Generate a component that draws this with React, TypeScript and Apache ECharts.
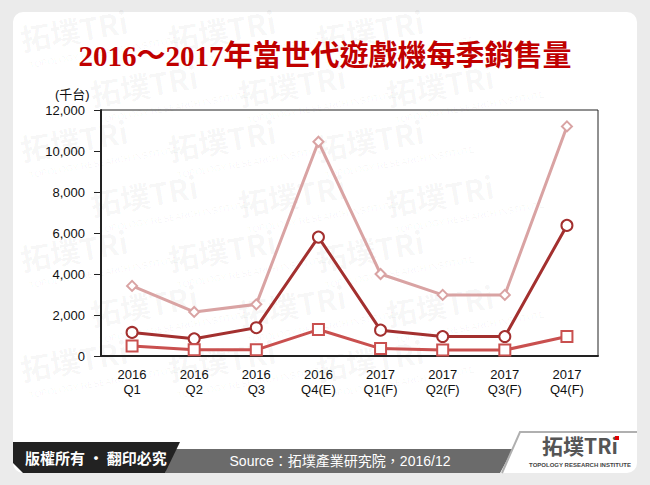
import React, { useEffect, useRef } from "react";
import * as echarts from "echarts";

const categories = ["2016\nQ1", "2016\nQ2", "2016\nQ3", "2016\nQ4(E)", "2017\nQ1(F)", "2017\nQ2(F)", "2017\nQ3(F)", "2017\nQ4(F)"];
const seriesTop = [3420, 2150, 2520, 10450, 4000, 2980, 2980, 11200];
const seriesMid = [1150, 840, 1380, 5800, 1260, 950, 950, 6370];
const seriesLow = [490, 300, 300, 1290, 360, 290, 290, 950];
const yTicks = { min: 0, max: 12000, interval: 2000 };
const titleText = "2016～2017年當世代遊戲機每季銷售量";
const unitText = "(千台)";
const footerLeft = "版權所有 · 翻印必究";
const footerSource = "Source：拓墣產業研究院，2016/12";

function watermark(): any[] {
  const els: any[] = [];
  for (let r = 0; r < 7; r++) {
    for (let c = 0; c < 4; c++) {
      const x = 18 + c * 148 + (r % 2) * 70;
      const y = 24 + r * 55;
      if (x > 455) continue;
      els.push({
        type: "group",
        x,
        y,
        rotation: 0.17,
        silent: true,
        z: -9,
        children: [
          { type: "text", x: 0, y: 0, silent: true, style: { text: "拓墣TRi", font: "bold 30px 'Noto Sans CJK TC', sans-serif", fill: "rgba(0,0,0,0.04)" } },
          { type: "text", x: 4, y: 38, silent: true, style: { text: "TOPOLOGY RESEARCH INSTITUTE", font: "9px 'Liberation Sans', Arial, sans-serif", fill: "rgba(0,0,0,0.045)" } },
        ],
      });
    }
  }
  return els;
}

export default function App() {
  const ref = useRef<HTMLDivElement>(null);
  useEffect(() => {
    if (!ref.current) return;
    const chart = echarts.init(ref.current, null, { renderer: "svg" });
    const fmt = (v: number) => String(v).replace(/\B(?=(\d{3})+(?!\d))/g, ",");
    const option: any = {
      animation: false,
      backgroundColor: "#ebebeb",
      title: {
        text: titleText,
        left: "center",
        top: 36,
        textStyle: {
          fontFamily: "'Liberation Serif', 'Noto Sans CJK TC', serif",
          fontWeight: "bold",
          fontSize: 29,
          color: "#c00000",
          textShadowColor: "rgba(80,0,0,0.45)",
          textShadowOffsetX: 1,
          textShadowOffsetY: 1,
          textShadowBlur: 0,
        },
      },
      grid: { left: 101, right: 52, top: 110, bottom: 129, show: true, borderColor: "#222", borderWidth: 1, backgroundColor: "transparent" },
      xAxis: {
        type: "category",
        data: categories,
        boundaryGap: true,
        axisLine: { lineStyle: { color: "#222", width: 2 } },
        axisTick: { show: false },
        axisLabel: { color: "#111", fontSize: 13, lineHeight: 15, margin: 11, fontFamily: "'Liberation Sans', Arial, sans-serif", interval: 0 },
      },
      yAxis: {
        type: "value",
        min: yTicks.min,
        max: yTicks.max,
        interval: yTicks.interval,
        axisLine: { show: true, lineStyle: { color: "#222", width: 2 } },
        axisTick: { show: true, length: 7, lineStyle: { color: "#222", width: 1 } },
        splitLine: { show: false },
        axisLabel: { color: "#111", fontSize: 13, margin: 16, formatter: fmt, fontFamily: "'Liberation Sans', Arial, sans-serif" },
      },
      series: [
        {
          name: "top",
          type: "line",
          data: seriesTop,
          symbol: "diamond",
          symbolSize: 10,
          lineStyle: { color: "#d9a3a3", width: 3 },
          itemStyle: { color: "#fff", borderColor: "#d9a3a3", borderWidth: 2 },
          z: 3,
        },
        {
          name: "mid",
          type: "line",
          data: seriesMid,
          symbol: "circle",
          symbolSize: 11,
          lineStyle: { color: "#a3302f", width: 3 },
          itemStyle: { color: "#fff", borderColor: "#a3302f", borderWidth: 2 },
          z: 4,
        },
        {
          name: "low",
          type: "line",
          data: seriesLow,
          symbol: "rect",
          symbolSize: 11,
          lineStyle: { color: "#c9504f", width: 3 },
          itemStyle: { color: "#fff", borderColor: "#c9504f", borderWidth: 2 },
          z: 5,
        },
      ],
      graphic: [
        { type: "rect", z: -10, silent: true, shape: { x: 13, y: 12, width: 624, height: 461, r: 10 }, style: { fill: "#ffffff" } },
        ...watermark(),
        { type: "text", x: 55, y: 88, style: { text: unitText, font: "13px 'Liberation Sans', 'Noto Sans CJK TC', sans-serif", fill: "#111" } },
        { type: "polygon", z: 10, shape: { points: [[172, 449], [513, 449], [500, 473], [165, 473]] }, style: { fill: "#6b6b6b" } },
        { type: "polygon", z: 11, shape: { points: [[13, 442], [180, 442], [165, 473], [23, 473], [13, 463]] }, style: { fill: "#222222" } },
        { type: "polyline", z: 11, shape: { points: [[502, 473], [520, 432], [637, 432]] }, style: { stroke: "#b0b0b0", lineWidth: 2, fill: null } },
        { type: "text", z: 12, x: 25, y: 450, style: { text: footerLeft, font: "bold 15px 'Noto Sans CJK TC', sans-serif", fill: "#ffffff" } },
        { type: "text", z: 12, x: 340, y: 461, style: { text: footerSource, font: "14px 'Liberation Sans', 'Noto Sans CJK TC', sans-serif", fill: "#ffffff", align: "center", verticalAlign: "middle" } },
        { type: "text", z: 12, x: 580, y: 445, style: { text: "拓墣TRi", font: "bold 21px 'Noto Sans CJK TC', sans-serif", fill: "#555555", align: "center", verticalAlign: "middle", lineHeight: 20 } },
        { type: "rect", z: 13, shape: { x: 615, y: 436, width: 4, height: 4 }, style: { fill: "#e00000" } },
        { type: "text", z: 12, x: 580, y: 465, style: { text: "TOPOLOGY RESEARCH INSTITUTE", font: "bold 6px 'Liberation Sans', Arial, sans-serif", fill: "#444", align: "center", verticalAlign: "middle", lineHeight: 7 } },
      ],
    };
    chart.setOption(option);
    return () => chart.dispose();
  }, []);
  return <div ref={ref} style={{ position: "absolute", left: 0, top: 0, width: 650, height: 485 }} />;
}
